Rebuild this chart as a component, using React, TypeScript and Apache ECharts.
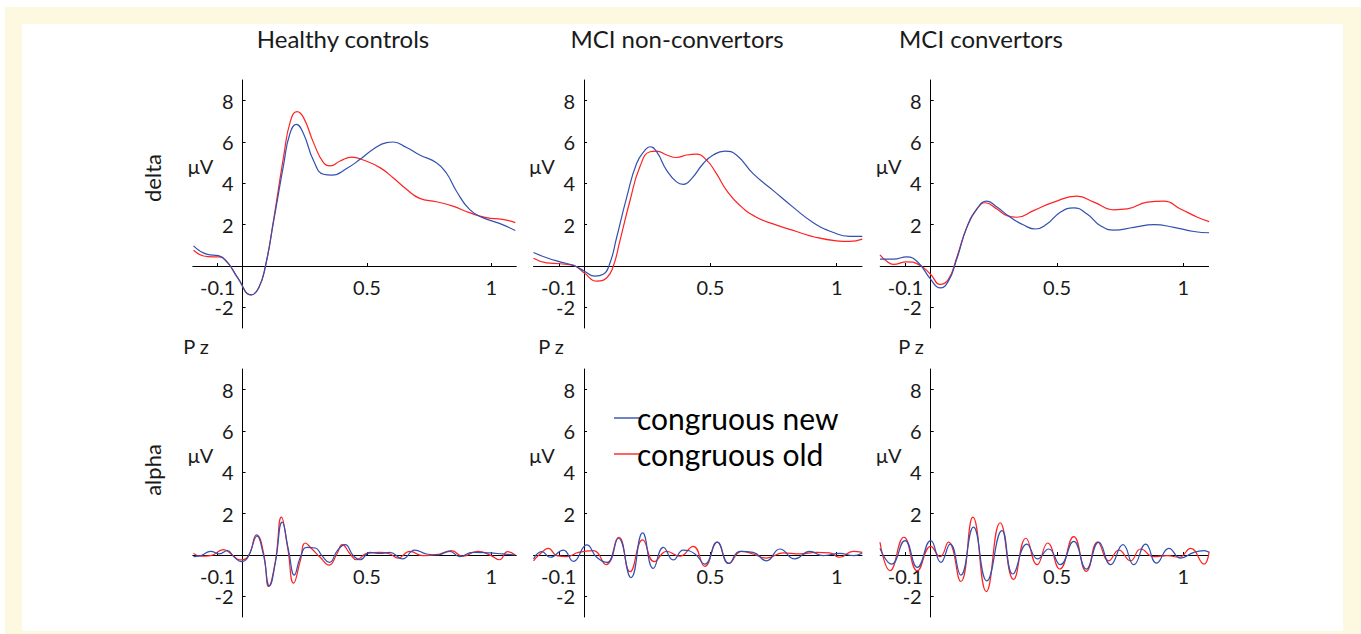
import React, { useEffect, useRef } from "react";
import * as echarts from "echarts";

const groups = ["Healthy controls", "MCI non-convertors", "MCI convertors"];
const bands = ["delta", "alpha"];
const seriesNames = ["congruous new", "congruous old"];
const xTickValues = [-0.1, 0.5, 1];
const yTickValues = [-2, 2, 4, 6, 8];

// delta band
const deltaHealthyNew = [[-0.197,0.97],[-0.141,0.56],[-0.097,0.5],[-0.06,0.16],[-0.02,-0.56],[0.035,-1.4],[0.065,-1.05],[0.092,0],[0.125,2.18],[0.165,4.9],[0.19,6.4],[0.216,6.85],[0.245,6.4],[0.285,5.1],[0.325,4.44],[0.359,4.4],[0.42,4.73],[0.472,5.16],[0.525,5.65],[0.579,5.97],[0.605,6.0],[0.659,5.73],[0.712,5.37],[0.779,5.0],[0.819,4.5],[0.859,3.63],[0.912,2.74],[0.965,2.34],[1.032,2.06],[1.096,1.72]];
const deltaHealthyOld = [[-0.197,0.76],[-0.141,0.45],[-0.097,0.44],[-0.06,0.16],[-0.02,-0.56],[0.035,-1.4],[0.065,-1.05],[0.092,0],[0.125,2.26],[0.165,5.3],[0.192,7.0],[0.219,7.47],[0.245,7.18],[0.285,5.97],[0.325,5.0],[0.352,4.84],[0.392,5.08],[0.439,5.27],[0.485,5.13],[0.552,4.76],[0.605,4.27],[0.659,3.71],[0.712,3.27],[0.779,3.11],[0.845,2.9],[0.912,2.58],[0.979,2.34],[1.045,2.26],[1.096,2.1]];
const deltaNonConvNew = [[-0.2,0.65],[-0.148,0.4],[-0.095,0.2],[-0.042,0.03],[0,-0.24],[0.043,-0.49],[0.076,-0.4],[0.103,0.16],[0.129,1.38],[0.169,3.33],[0.208,4.96],[0.241,5.6],[0.261,5.77],[0.287,5.53],[0.327,4.63],[0.366,4.07],[0.393,3.95],[0.426,4.23],[0.472,4.96],[0.511,5.37],[0.557,5.56],[0.603,5.37],[0.669,4.47],[0.748,3.66],[0.827,2.85],[0.906,2.11],[0.985,1.63],[1.051,1.43],[1.101,1.43]];
const deltaNonConvOld = [[-0.2,0.37],[-0.148,0.15],[-0.095,0.11],[-0.042,0.03],[0,-0.33],[0.05,-0.73],[0.09,-0.57],[0.116,0],[0.142,1.22],[0.182,3.17],[0.221,4.8],[0.261,5.53],[0.287,5.56],[0.327,5.37],[0.366,5.25],[0.406,5.37],[0.445,5.41],[0.485,5.12],[0.524,4.47],[0.564,3.66],[0.617,2.93],[0.682,2.36],[0.762,1.98],[0.841,1.67],[0.92,1.38],[0.999,1.22],[1.051,1.19],[1.101,1.3]];
const deltaConvNew = [[-0.201,0.33],[-0.148,0.33],[-0.095,0.44],[-0.049,0.16],[0,-0.65],[0.037,-1.06],[0.07,-0.73],[0.103,0.33],[0.143,1.87],[0.183,2.76],[0.222,3.14],[0.262,2.85],[0.315,2.36],[0.368,1.98],[0.414,1.79],[0.46,2.03],[0.513,2.6],[0.566,2.81],[0.619,2.52],[0.672,1.95],[0.725,1.74],[0.804,1.87],[0.884,2.0],[0.963,1.87],[1.042,1.67],[1.102,1.61]];
const deltaConvOld = [[-0.201,0.54],[-0.175,0.24],[-0.148,0.08],[-0.095,0.2],[-0.049,0.08],[0,-0.41],[0.037,-0.89],[0.07,-0.65],[0.103,0.41],[0.143,1.87],[0.183,2.76],[0.216,3.06],[0.262,2.76],[0.302,2.44],[0.341,2.36],[0.407,2.68],[0.487,3.09],[0.579,3.38],[0.646,3.09],[0.725,2.72],[0.778,2.76],[0.857,3.09],[0.923,3.14],[0.989,2.76],[1.056,2.36],[1.102,2.15]];

// alpha band
const alphaHealthyNew = [[-0.197,-0.08],[-0.168,-0.03],[-0.128,0.18],[-0.095,0.05],[-0.061,0.21],[-0.035,-0.08],[-0.005,-0.32],[0.025,-0.03],[0.056,0.97],[0.083,0.05],[0.108,-1.49],[0.132,-0.36],[0.159,1.59],[0.185,0.21],[0.208,-0.97],[0.232,-0.11],[0.259,0.37],[0.292,0.34],[0.319,-0.03],[0.349,-0.36],[0.381,0.21],[0.412,0.5],[0.445,-0.03],[0.472,-0.23],[0.512,0.13],[0.552,0.08],[0.592,0.13],[0.643,-0.19],[0.692,0.24],[0.739,0.05],[0.785,0],[0.832,0.18],[0.872,-0.08],[0.925,0.13],[0.992,0.1],[1.045,0.05],[1.096,0]];
const alphaHealthyOld = [[-0.197,0.08],[-0.168,-0.06],[-0.128,-0.03],[-0.077,0.26],[-0.041,0],[-0.011,-0.24],[0.019,-0.11],[0.059,0.91],[0.085,0.05],[0.105,-1.52],[0.132,-0.28],[0.156,1.83],[0.181,0.37],[0.205,-1.36],[0.232,-0.28],[0.252,0.58],[0.279,0.29],[0.312,-0.11],[0.348,-0.49],[0.379,0.05],[0.401,0.5],[0.432,0.05],[0.459,-0.23],[0.499,0.08],[0.552,0.13],[0.592,0.05],[0.625,-0.15],[0.672,0.18],[0.725,-0.03],[0.792,0.05],[0.839,0.21],[0.885,-0.06],[0.945,0.18],[0.999,-0.03],[1.032,-0.23],[1.065,0.16],[1.096,0]];
const alphaNonConvNew = [[-0.2,-0.19],[-0.167,0.16],[-0.134,-0.11],[-0.082,0.24],[-0.042,-0.31],[0.011,0.49],[0.05,-0.11],[0.092,-0.36],[0.136,0.81],[0.186,-1.09],[0.232,1.07],[0.274,-0.65],[0.314,0.37],[0.353,-0.24],[0.393,0.24],[0.439,0.05],[0.478,-0.44],[0.527,0.62],[0.573,-0.41],[0.617,0.18],[0.669,0.13],[0.722,-0.28],[0.775,0.29],[0.834,-0.19],[0.893,0.18],[0.946,-0.03],[1.012,0.08],[1.065,-0.03],[1.101,0.1]];
const alphaNonConvOld = [[-0.2,-0.28],[-0.174,0.05],[-0.141,0.32],[-0.108,-0.03],[-0.069,-0.08],[-0.022,0.13],[0.037,0.21],[0.087,-0.47],[0.138,0.86],[0.182,-0.81],[0.232,0.73],[0.278,-0.32],[0.327,0.18],[0.379,-0.06],[0.432,0.42],[0.478,-0.55],[0.527,0.62],[0.573,-0.41],[0.623,0.18],[0.669,0.05],[0.722,-0.15],[0.788,0.1],[0.854,0.05],[0.92,0.13],[0.972,0.1],[1.012,-0.11],[1.065,0.18],[1.101,0.13]];
const alphaConvNew = [[-0.201,0.32],[-0.155,-0.44],[-0.102,0.7],[-0.053,-0.6],[0,0.7],[0.04,-0.36],[0.077,0.53],[0.119,-0.97],[0.169,1.35],[0.222,-1.25],[0.282,1.18],[0.325,-0.92],[0.381,0.53],[0.423,-0.19],[0.467,0.29],[0.513,-0.47],[0.566,0.66],[0.616,-0.68],[0.665,0.62],[0.712,-0.47],[0.761,0.5],[0.804,-0.47],[0.851,0.53],[0.894,-0.39],[0.943,0.32],[0.989,-0.15],[1.042,0.13],[1.082,0.21],[1.102,0.13]];
const alphaConvOld = [[-0.201,0.62],[-0.161,-0.76],[-0.106,0.86],[-0.053,-0.76],[0,0.42],[0.037,-0.08],[0.07,0.62],[0.119,-1.28],[0.167,1.83],[0.22,-1.77],[0.275,1.56],[0.328,-1.18],[0.377,0.81],[0.421,-0.47],[0.463,0.58],[0.511,-0.68],[0.566,0.89],[0.616,-0.79],[0.661,0.62],[0.705,-0.28],[0.745,0.24],[0.791,-0.28],[0.831,0.29],[0.884,-0.08],[0.937,-0.03],[0.983,-0.11],[1.029,0.32],[1.082,-0.44],[1.102,0.16]];

const panelData = [
  [deltaHealthyNew, deltaHealthyOld],
  [deltaNonConvNew, deltaNonConvOld],
  [deltaConvNew, deltaConvOld],
  [alphaHealthyNew, alphaHealthyOld],
  [alphaNonConvNew, alphaNonConvOld],
  [alphaConvNew, alphaConvOld],
];

const X_MIN = -0.2;
const X_MAX = 1.1;
const Y_MIN = -3;
const Y_MAX = 9;

const FONT = 'Lato, "Open Sans", sans-serif';
const BLUE = "#3250b0";
const RED = "#ff2222";
const TEXT = "#1a1a1a";

export default function App() {
  const ref = useRef<HTMLDivElement>(null);
  useEffect(() => {
    document.body.style.margin = "0";
    const chart = echarts.init(ref.current!, null, { renderer: "svg" });
    const colLeft = [192.8, 533.5, 880.2];
    const colWidth = [323.5, 328.5, 328.4];
    const rowTop = [80, 369];
    const rowHeight = 248;
    const grids: any[] = [];
    const xAxes: any[] = [];
    const yAxes: any[] = [];
    const series: any[] = [];
    const graphics: any[] = [
      { type: "rect", z: -10, silent: true, shape: { x: 5, y: 7, width: 1356, height: 627 }, style: { fill: "#fdf8e0" } },
      { type: "rect", z: -9, silent: true, shape: { x: 22, y: 24, width: 1321, height: 607 }, style: { fill: "#ffffff" } },
    ];
    const titleX = [343, 677, 981];
    groups.forEach((g, c) => {
      graphics.push({
        type: "text", x: titleX[c], y: 38,
        style: { text: g, fontSize: 24, fontFamily: FONT, fill: TEXT, align: "center", verticalAlign: "middle" },
      });
    });
    const bandY = [178, 470];
    bands.forEach((b, r) => {
      graphics.push({
        type: "text", x: 152, y: bandY[r], rotation: Math.PI / 2,
        style: { text: b, fontSize: 22, fontFamily: FONT, fill: TEXT, align: "center", verticalAlign: "middle" },
      });
    });
    const pzX = [196, 551, 911];
    pzX.forEach((x) => {
      graphics.push({
        type: "text", x, y: 346,
        style: { text: "P z", fontSize: 20, fontFamily: FONT, fill: TEXT, align: "center", verticalAlign: "middle" },
      });
    });
    const muY = [166, 455];
    for (let r = 0; r < 2; r++) {
      for (let c = 0; c < 3; c++) {
        const i = r * 3 + c;
        grids.push({ left: colLeft[c], top: rowTop[r], width: colWidth[c], height: rowHeight, containLabel: false, outerBoundsMode: "none" });
        // shift axes so they cross at (0, 0)
        const yAxisShift = ((0 - X_MIN) / (X_MAX - X_MIN)) * colWidth[c];
        const xAxisShift = ((0 - Y_MIN) / (Y_MAX - Y_MIN)) * rowHeight;
        const axisX = colLeft[c] + yAxisShift;
        graphics.push({
          type: "text", x: axisX - 42, y: muY[r],
          style: { text: "μV", fontSize: 20, fontFamily: FONT, fill: TEXT, align: "center", verticalAlign: "middle" },
        });
        xAxes.push({
          type: "value", gridIndex: i, min: X_MIN, max: X_MAX, position: "bottom", offset: -xAxisShift,
          axisLine: { show: true, onZero: false, lineStyle: { color: "#000", width: 1 } },
          axisTick: { show: true, inside: true, length: 3, customValues: xTickValues, lineStyle: { color: "#000" } },
          axisLabel: { customValues: xTickValues, formatter: (v: number) => String(v), fontSize: 20, fontFamily: FONT, color: TEXT, margin: 11 },
          splitLine: { show: false },
        });
        yAxes.push({
          type: "value", gridIndex: i, min: Y_MIN, max: Y_MAX, position: "left", offset: -yAxisShift,
          axisLine: { show: true, onZero: false, lineStyle: { color: "#000", width: 1 } },
          axisTick: { show: true, inside: true, length: 3, customValues: yTickValues, lineStyle: { color: "#000" } },
          axisLabel: { customValues: yTickValues, formatter: (v: number) => String(v), fontSize: 20, fontFamily: FONT, color: TEXT, margin: 9 },
          splitLine: { show: false },
        });
        panelData[i].forEach((d, k) => {
          series.push({
            type: "line", name: seriesNames[k], xAxisIndex: i, yAxisIndex: i,
            data: d, symbol: "none", showSymbol: false, smooth: 0.5,
            lineStyle: { color: k === 0 ? BLUE : RED, width: 1.2 },
            itemStyle: { color: k === 0 ? BLUE : RED },
            z: k === 0 ? 3 : 2,
          });
        });
      }
    }
    chart.setOption({
      animation: false,
      backgroundColor: "#ffffff",
      grid: grids,
      xAxis: xAxes,
      yAxis: yAxes,
      series,
      graphic: { elements: graphics },
      legend: {
        data: seriesNames.map((n, k) => ({ name: n, icon: "rect", itemStyle: { color: k === 0 ? BLUE : RED } })),
        orient: "vertical", left: 609, top: 398,
        itemWidth: 26, itemHeight: 1.4, itemGap: 6,
        textStyle: { fontSize: 30, fontFamily: FONT, color: "#000", lineHeight: 30, padding: [0, 0, 0, -8] },
        selectedMode: false,
      },
      tooltip: { show: false },
    });
    return () => chart.dispose();
  }, []);
  return <div ref={ref} style={{ width: 1361, height: 634 }} />;
}
